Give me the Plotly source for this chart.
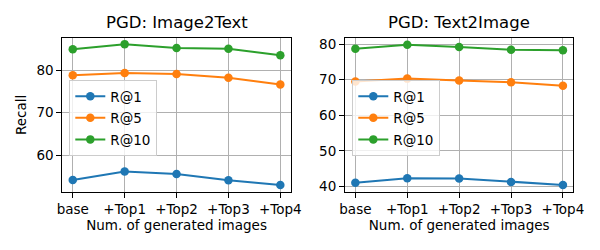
import plotly.graph_objects as go

categories = ["base", "+Top1", "+Top2", "+Top3", "+Top4"]

i2t_r1 = [54.2, 56.2, 55.6, 54.1, 53.0]
i2t_r5 = [78.8, 79.3, 79.1, 78.2, 76.6]
i2t_r10 = [84.9, 86.1, 85.2, 85.0, 83.5]

t2i_r1 = [41.0, 42.3, 42.2, 41.2, 40.4]
t2i_r5 = [69.5, 70.3, 69.8, 69.3, 68.3]
t2i_r10 = [78.7, 79.8, 79.2, 78.4, 78.3]

series_names = ["R@1", "R@5", "R@10"]
colors = ["#1f77b4", "#ff7f0e", "#2ca02c"]

FONT = "DejaVu Sans"
fig = go.Figure()

for vals, name, col in zip([i2t_r1, i2t_r5, i2t_r10], series_names, colors):
    fig.add_trace(go.Scatter(x=categories, y=vals, name=name, mode="lines+markers",
                             line=dict(color=col, width=2), marker=dict(size=8.5, color=col),
                             xaxis="x", yaxis="y", legend="legend", legendgroup="a" + name))
for vals, name, col in zip([t2i_r1, t2i_r5, t2i_r10], series_names, colors):
    fig.add_trace(go.Scatter(x=categories, y=vals, name=name, mode="lines+markers",
                             line=dict(color=col, width=2), marker=dict(size=8.5, color=col),
                             xaxis="x2", yaxis="y2", legend="legend2", legendgroup="b" + name))

axis_common = dict(showline=True, mirror=True, linecolor="black", linewidth=1,
                   showgrid=True, gridcolor="#b0b0b0", gridwidth=0.8,
                   ticks="outside", ticklen=5, tickcolor="black", automargin=False,
                   tickfont=dict(family=FONT, size=13.5, color="black"), zeroline=False)

ydom = [0.232, 0.849]
leg_common = dict(xanchor="left", yanchor="top", tracegroupgap=1,
                  bgcolor="rgba(255,255,255,0.8)", bordercolor="#cccccc", borderwidth=1,
                  font=dict(family=FONT, size=13.5, color="black"), itemwidth=30)
fig.update_layout(
    width=600, height=250,
    margin=dict(l=0, r=0, t=0, b=0),
    paper_bgcolor="white", plot_bgcolor="white",
    font=dict(family=FONT, color="black"),
    xaxis=dict(domain=[0.104, 0.4845], range=[-0.2, 4.2], type="category",
               title=dict(text="Num. of generated images", font=dict(size=13.5), standoff=4), **axis_common),
    yaxis=dict(domain=ydom, range=[51.36, 87.6], tickvals=[60, 70, 80],
               title=dict(text="Recall", font=dict(size=13.5), standoff=6), **axis_common),
    xaxis2=dict(domain=[0.575, 0.9555], range=[-0.2, 4.2], type="category", anchor="y2",
                title=dict(text="Num. of generated images", font=dict(size=13.5), standoff=4), **axis_common),
    yaxis2=dict(domain=ydom, range=[38.4, 81.8], tickvals=[40, 50, 60, 70, 80], anchor="x2",
                **axis_common),
    legend=dict(x=69.3 / 600, y=1 - 80 / 250, **leg_common),
    legend2=dict(x=352.3 / 600, y=1 - 80 / 250, **leg_common),
    annotations=[
        dict(text="PGD: Image2Text", x=176.5 / 600, y=1 - 23 / 250, xref="paper", yref="paper",
             showarrow=False, font=dict(family=FONT, size=16.5, color="black"), xanchor="center", yanchor="middle"),
        dict(text="PGD: Text2Image", x=459 / 600, y=1 - 23 / 250, xref="paper", yref="paper",
             showarrow=False, font=dict(family=FONT, size=16.5, color="black"), xanchor="center", yanchor="middle"),
    ],
)

fig.write_html("out.html", post_script="document.body.style.margin='0';",
               config={"displayModeBar": False})
